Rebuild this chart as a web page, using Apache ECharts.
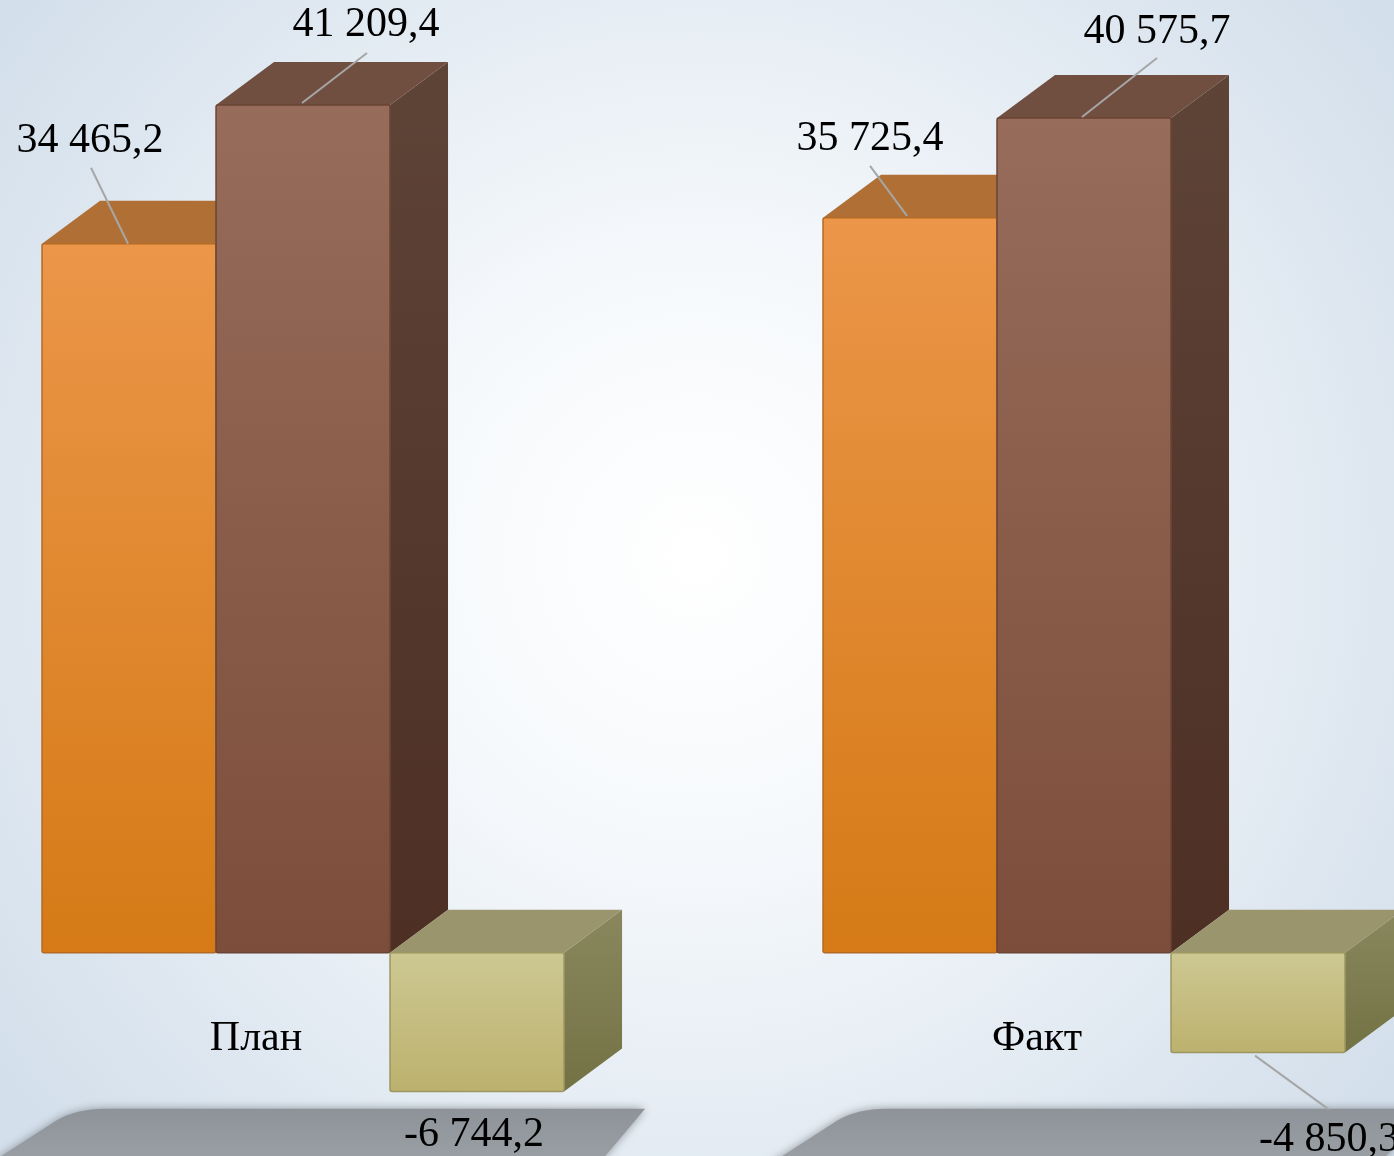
<!DOCTYPE html>
<html>
<head>
<meta charset="utf-8">
<script src="https://cdn.jsdelivr.net/npm/echarts@6/dist/echarts.min.js"></script>
<style>
html,body{margin:0;padding:0;width:1394px;height:1156px;overflow:hidden;}
#main{width:1394px;height:1156px;}
</style>
</head>
<body>
<div id="main"></div>
<script>
// ---- data ----
const categories = ['План', 'Факт'];
const seriesIncome = [34465.2, 35725.4];
const seriesExpense = [41209.4, 40575.7];
const seriesBalance = [-6744.2, -4850.3];

// ---- style / layout constants ----
const FONT = '"Liberation Serif", "Times New Roman", serif';
const DEPTH_X = 58, DEPTH_Y = -43;
const GROUP_OFFSET = -0.2740; // in x-units relative to category position
const BAR_W = 0.2228;         // in x-units
const palettes = [
  { front: ['#EB9649', '#D57A16'], top: '#B07035', side: ['#9A5A22', '#8A4E18'], edge: '#B36A25' },
  { front: ['#976C5A', '#7C4D3B'], top: '#714F40', side: ['#5E4337', '#4D2F24'], edge: '#6A4434' },
  { front: ['#CDC893', '#BCB16D'], top: '#9A956D', side: ['#8A875E', '#737244'], edge: '#9C9660' }
];
// label placement relative to the bar's front edge [series][category]
// t: text centre x / baseline y, s: leader start, e: leader end (null = no leader)
const labelLayout = [
  [ {t:[48,-89], s:[49,-76], e:[86,0]}, {t:[47,-65], s:[47,-52], e:[84,-2]} ],
  [ {t:[150,-66], s:[151,-52], e:[86,-2]}, {t:[160,-72], s:[160,-60], e:[85,-1]} ],
  [ {t:[84,57], s:null, e:null}, {t:[158,101], s:[84,3], e:[158,57]} ]
];

function fmt(v) {
  const neg = v < 0;
  const s = Math.abs(v).toFixed(1).split('.');
  const int = s[0].replace(/\B(?=(\d{3})+(?!\d))/g, ' ');
  return (neg ? '-' : '') + int + ',' + s[1];
}

function barRenderer(si) {
  return function (params, api) {
    const c = api.value(0), v = api.value(1);
    const base = api.coord([c, 0]);
    const tip = api.coord([c, v]);
    const unit = api.size([1, 0])[0];
    const xl = base[0] + (GROUP_OFFSET + si * BAR_W) * unit;
    const xr = xl + BAR_W * unit;
    const top = Math.min(base[1], tip[1]);
    const bot = Math.max(base[1], tip[1]);
    const p = palettes[si];
    const children = [];
    children.push({
      type: 'polygon',
      shape: { points: [[xr, top], [xr + DEPTH_X, top + DEPTH_Y], [xr + DEPTH_X, bot + DEPTH_Y], [xr, bot]] },
      style: { fill: new echarts.graphic.LinearGradient(0, 0, 0, 1, [{offset:0,color:p.side[0]},{offset:1,color:p.side[1]}]) }
    });
    children.push({
      type: 'polygon',
      shape: { points: [[xl, top], [xl + DEPTH_X, top + DEPTH_Y], [xr + DEPTH_X, top + DEPTH_Y], [xr, top]] },
      style: { fill: p.top }
    });
    children.push({
      type: 'rect',
      shape: { x: xl, y: top, width: xr - xl, height: bot - top, r: 2 },
      style: { fill: new echarts.graphic.LinearGradient(0, 0, 0, 1, [{offset:0,color:p.front[0]},{offset:1,color:p.front[1]}]), stroke: p.edge, lineWidth: 1.5 }
    });
    const L = labelLayout[si][c];
    const ref = v >= 0 ? top : bot;
    if (L.s) {
      children.push({
        type: 'line',
        shape: { x1: xl + L.s[0], y1: ref + L.s[1], x2: xl + L.e[0], y2: ref + L.e[1] },
        style: { stroke: '#A6A6A6', lineWidth: 2 },
        z2: 10
      });
    }
    children.push({
      type: 'text',
      x: xl + L.t[0], y: ref + L.t[1] - 14,
      style: { text: fmt(v), fill: '#000', font: '42px ' + FONT, align: 'center', verticalAlign: 'middle' },
      z2: 20
    });
    return { type: 'group', children: children };
  };
}

// floor shadow + category name, placed from the category position on the x axis
function floorRenderer(params, api) {
  const c = api.value(0);
  const base = api.coord([c, 0]);
  const cx = base[0];
  const y0 = base[1] + 156;
  return {
    type: 'group',
    children: [
      {
        type: 'path',
        shape: {
          pathData: 'M' + (cx - 150) + ' ' + y0 +
            ' L' + (cx + 389) + ' ' + y0 +
            ' L' + (cx + 330) + ' ' + (y0 + 70) +
            ' L' + (cx - 290) + ' ' + (y0 + 70) +
            ' L' + (cx - 200) + ' ' + (y0 + 12) +
            ' Q' + (cx - 180) + ' ' + y0 + ' ' + (cx - 150) + ' ' + y0 + ' Z'
        },
        style: {
          fill: new echarts.graphic.LinearGradient(0, 0, 0, 1, [{offset:0,color:'#8E9399'},{offset:1,color:'#9FA4A9'}]),
          shadowBlur: 10, shadowColor: 'rgba(110,115,120,0.7)'
        },
        silent: true
      },
      {
        type: 'text',
        x: cx, y: base[1] + 86,
        style: { text: categories[c], fill: '#000', font: '42px ' + FONT, align: 'center', verticalAlign: 'middle' }
      }
    ]
  };
}

const chart = echarts.init(document.getElementById('main'));
chart.setOption({
  animation: false,
  backgroundColor: {
    type: 'radial', x: 0.5, y: 0.48, r: 0.75,
    colorStops: [
      { offset: 0, color: '#FFFFFF' },
      { offset: 0.35, color: '#F5F8FB' },
      { offset: 1, color: '#D3DFEB' }
    ]
  },
  grid: { left: 0, right: 0, top: 27, bottom: 18, outerBoundsMode: 'none', containLabel: false },
  xAxis: {
    type: 'value', min: -0.3278, max: 1.4571,
    axisLine: { show: false },
    axisTick: { show: false },
    splitLine: { show: false },
    axisLabel: { show: false }
  },
  yAxis: { type: 'value', min: -9000, max: 45000, show: false, splitLine: { show: false } },
  series: [
    { type: 'custom', name: 'floor', renderItem: floorRenderer, data: categories.map((n, i) => [i]), z: 1, silent: true },
    { type: 'custom', name: 'Доходы', renderItem: barRenderer(0), data: seriesIncome.map((v, i) => [i, v]), z: 2 },
    { type: 'custom', name: 'Расходы', renderItem: barRenderer(1), data: seriesExpense.map((v, i) => [i, v]), z: 3 },
    { type: 'custom', name: 'Дефицит', renderItem: barRenderer(2), data: seriesBalance.map((v, i) => [i, v]), z: 4 }
  ]
});
</script>
</body>
</html>
